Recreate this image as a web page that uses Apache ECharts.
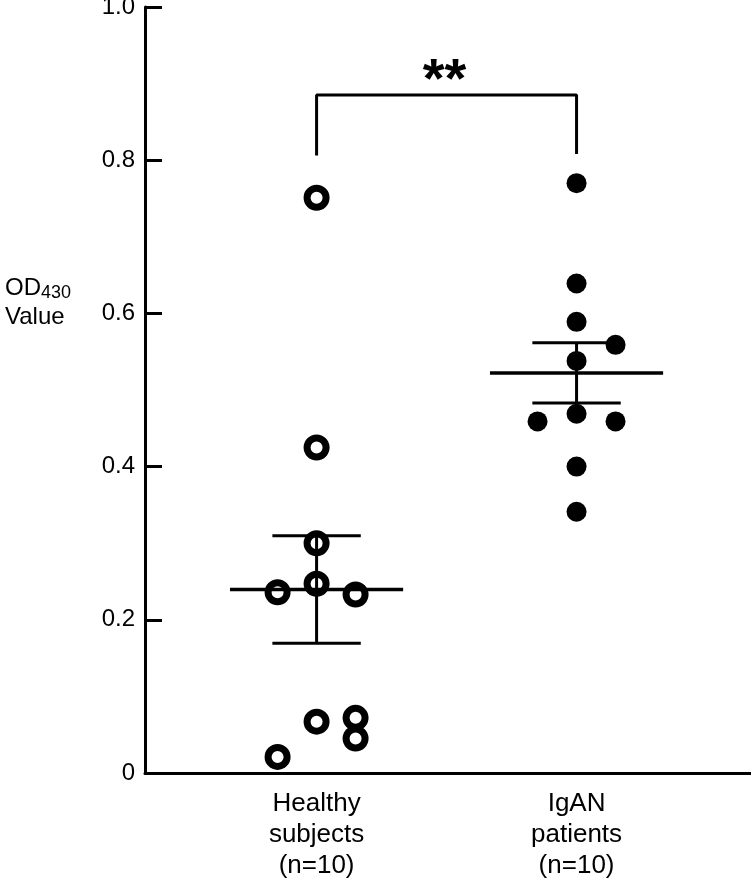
<!DOCTYPE html>
<html>
<head>
<meta charset="utf-8">
<script src="https://cdn.jsdelivr.net/npm/echarts@6.0.0/dist/echarts.min.js"></script>
<style>
  html, body { margin: 0; padding: 0; background: #fff; }
  #chart { width: 751px; height: 889px; }
</style>
</head>
<body>
<div id="chart"></div>
<script>
// group labels (x axis)
const categories = ["Healthy\nsubjects\n(n=10)", "IgAN\npatients\n(n=10)"];
// OD430 values, with horizontal jitter of each dot
const healthyValues = [0.751, 0.425, 0.300, 0.247, 0.236, 0.233, 0.067, 0.072, 0.045, 0.021];
const healthyJitter = [0, 0, 0, 0, -0.15, 0.15, 0, 0.15, 0.15, -0.15];
const iganValues = [0.770, 0.639, 0.589, 0.559, 0.538, 0.459, 0.469, 0.459, 0.400, 0.341];
const iganJitter = [0, 0, 0, 0.15, 0, -0.15, 0, 0.15, 0, 0];
// significance bracket: left foot, top, right foot
const bracket = [0.806, 0.885, 0.808];
const sigText = "**";

// mean and standard error of the mean
function meanSem(arr) {
  const n = arr.length;
  const m = arr.reduce((a, b) => a + b, 0) / n;
  const v = arr.reduce((a, b) => a + (b - m) * (b - m), 0) / (n - 1);
  return [m, Math.sqrt(v) / Math.sqrt(n)];
}

const toPoints = (vals, jit, center) => vals.map((v, i) => [center + jit[i], v]);
const stats = [healthyValues, iganValues].map((vals, i) => {
  const ms = meanSem(vals);
  return [i + 1, ms[0], ms[1]];
});

const FONT = "'Liberation Sans', Arial, sans-serif";

const chart = echarts.init(document.getElementById("chart"));
chart.setOption({
  animation: false,
  title: {
    left: 0,
    top: 269,
    text: "{a|OD}{b|430}\n{a|Value}",
    textStyle: {
      rich: {
        a: { fontFamily: FONT, fontSize: 24, fontWeight: "normal", color: "#000", lineHeight: 29 },
        b: { fontFamily: FONT, fontSize: 18, fontWeight: "normal", color: "#000", lineHeight: 29, verticalAlign: "bottom", padding: [0, 0, 1, 0] },
      },
    },
  },
  grid: {
    left: 145,
    right: 0,
    top: 7,
    bottom: 116,
    outerBoundsMode: "none",
  },
  xAxis: {
    type: "value",
    min: 0.34,
    max: 2.671,
    splitLine: { show: false },
    axisLine: { lineStyle: { color: "#000", width: 3 } },
    axisTick: { show: false },
    axisLabel: {
      customValues: [1, 2],
      formatter: (v) => categories[Math.round(v) - 1],
      fontFamily: FONT,
      fontSize: 26,
      lineHeight: 31,
      color: "#000",
      margin: 15,
    },
  },
  yAxis: {
    type: "value",
    min: 0,
    max: 1,
    interval: 0.2,
    splitLine: { show: false },
    axisLine: { lineStyle: { color: "#000", width: 3 } },
    axisTick: { inside: true, length: 17, lineStyle: { color: "#000", width: 3 } },
    axisLabel: {
      formatter: (v) => (v === 0 ? "0" : v.toFixed(1)),
      fontFamily: FONT,
      fontSize: 24,
      color: "#000",
      margin: 10,
    },
  },
  series: [
    {
      name: "Healthy subjects",
      type: "scatter",
      symbol: "circle",
      symbolSize: 19,
      itemStyle: { color: "rgba(0,0,0,0)", borderColor: "#000", borderWidth: 7, opacity: 1 },
      emphasis: { disabled: true },
      data: toPoints(healthyValues, healthyJitter, 1),
      z: 3,
    },
    {
      name: "IgAN patients",
      type: "scatter",
      symbol: "circle",
      symbolSize: 20,
      itemStyle: { color: "#000", opacity: 1 },
      emphasis: { disabled: true },
      data: toPoints(iganValues, iganJitter, 2),
      z: 3,
    },
    {
      // mean line + SEM whiskers
      type: "custom",
      data: stats,
      z: 4,
      renderItem: function (params, api) {
        const c = api.value(0), m = api.value(1), s = api.value(2);
        const seg = (a, b, w) => {
          const p1 = api.coord(a), p2 = api.coord(b);
          return {
            type: "line",
            shape: { x1: p1[0], y1: p1[1], x2: p2[0], y2: p2[1] },
            style: { stroke: "#000", lineWidth: w },
          };
        };
        return {
          type: "group",
          children: [
            seg([c - 0.333, m], [c + 0.333, m], 3.5),
            seg([c, m - s], [c, m + s], 3),
            seg([c - 0.17, m + s], [c + 0.17, m + s], 3),
            seg([c - 0.17, m - s], [c + 0.17, m - s], 3),
          ],
        };
      },
    },
    {
      // significance bracket
      type: "line",
      showSymbol: false,
      silent: true,
      lineStyle: { color: "#000", width: 3 },
      data: [[1, bracket[0]], [1, bracket[1]], [2, bracket[1]], [2, bracket[2]]],
      z: 4,
    },
    {
      type: "custom",
      data: [[1.5, bracket[1]]],
      renderItem: function (params, api) {
        const p = api.coord([api.value(0), api.value(1)]);
        return {
          type: "text",
          x: p[0] - 2,
          y: p[1] + 14,
          style: {
            text: sigText,
            fontFamily: FONT,
            fontWeight: "bold",
            fontSize: 56,
            fill: "#000",
            align: "center",
            verticalAlign: "bottom",
          },
        };
      },
    },
  ],
});
</script>
</body>
</html>
